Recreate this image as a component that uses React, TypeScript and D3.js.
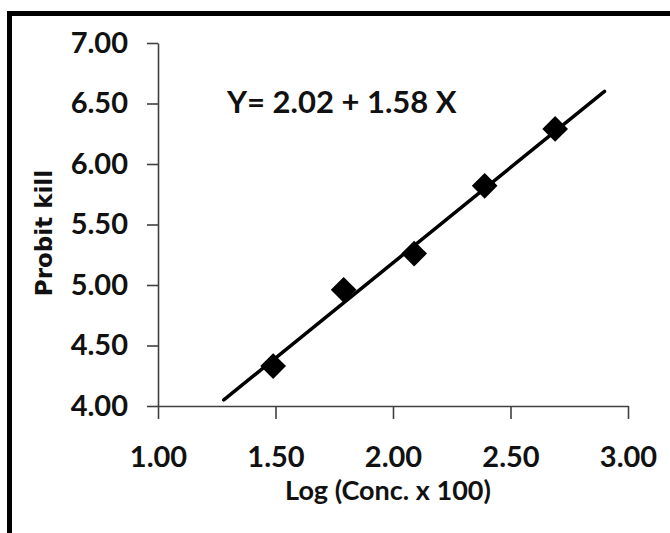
import React, { useEffect, useRef } from 'react';
import * as d3 from 'd3';

// observed points
const logConc = [1.49, 1.79, 2.09, 2.39, 2.69];
const probitKill = [4.33, 4.96, 5.26, 5.82, 6.29];

// fitted line end points
const fitX = [1.28, 2.9];
const fitY = [4.05, 6.6];

const xTicks = [1, 1.5, 2, 2.5, 3];
const yTicks = [4, 4.5, 5, 5.5, 6, 6.5, 7];

const equationLabel = 'Y= 2.02 + 1.58 X';
const xTitle = 'Log (Conc. x 100)';
const yTitle = 'Probit kill';

const App = () => {
  const chartRef = useRef<SVGSVGElement>(null);

  useEffect(() => {
    const svg = d3.select(chartRef.current);
    svg.selectAll('*').remove();

    const width = 670;
    const height = 533;
    const axisColor = '#404040';
    const tickFont = 'Lato, sans-serif';

    const x = d3.scaleLinear().domain([1, 3]).range([158, 628]);
    const y = d3.scaleLinear().domain([4, 7]).range([406, 43]);

    // white background + frame (only top/left edges visible in the crop)
    svg.append('rect')
      .attr('width', width)
      .attr('height', height)
      .attr('fill', '#fff');
    svg.append('rect')
      .attr('x', 9.5)
      .attr('y', 13.5)
      .attr('width', 720)
      .attr('height', 600)
      .attr('fill', 'none')
      .attr('stroke', '#000')
      .attr('stroke-width', 5);

    // y axis
    const yAxis = svg.append('g')
      .attr('transform', `translate(${x(1)},0)`)
      .call(d3.axisLeft(y)
        .tickValues(yTicks)
        .tickSize(11)
        .tickSizeOuter(0)
        .tickPadding(19)
        .tickFormat(d3.format('.2f')));

    // x axis
    const xAxis = svg.append('g')
      .attr('transform', `translate(0,${y(4)})`)
      .call(d3.axisBottom(x)
        .tickValues(xTicks)
        .tickSize(13)
        .tickSizeOuter(0)
        .tickPadding(27)
        .tickFormat(d3.format('.2f')));

    [yAxis, xAxis].forEach(g => {
      g.selectAll('.domain, .tick line')
        .attr('stroke', axisColor)
        .attr('stroke-width', 1.6);
      g.selectAll('text')
        .attr('fill', '#111')
        .attr('font-family', tickFont)
        .attr('font-weight', 700)
        .attr('font-size', 29);
    });

    // fitted line
    const line = d3.line<number>()
      .x(d => x(d))
      .y((d, i) => y(fitY[i]));
    svg.append('path')
      .datum(fitX)
      .attr('fill', 'none')
      .attr('stroke', '#000')
      .attr('stroke-width', 3.5)
      .attr('stroke-linecap', 'round')
      .attr('d', line);

    // diamond markers
    const diamond = d3.symbol().type(d3.symbolSquare).size(330);
    svg.append('g')
      .selectAll('path')
      .data(logConc)
      .join('path')
      .attr('transform', (d, i) => `translate(${x(d)},${y(probitKill[i])}) rotate(45)`)
      .attr('d', diamond)
      .attr('fill', '#000');

    // equation
    svg.append('text')
      .attr('x', 227)
      .attr('y', 113)
      .attr('font-family', tickFont)
      .attr('font-weight', 700)
      .attr('font-size', 31)
      .attr('fill', '#111')
      .text(equationLabel);

    // axis titles
    svg.append('text')
      .attr('x', 388)
      .attr('y', 500)
      .attr('text-anchor', 'middle')
      .attr('font-family', tickFont)
      .attr('font-weight', 700)
      .attr('font-size', 27)
      .attr('fill', '#111')
      .text(xTitle);

    svg.append('text')
      .attr('transform', 'translate(52,233) rotate(-90)')
      .attr('text-anchor', 'middle')
      .attr('font-family', '"DejaVu Sans", sans-serif')
      .attr('font-weight', 700)
      .attr('font-size', 23)
      .attr('fill', '#111')
      .text(yTitle);
  }, []);

  return (
    <svg
      ref={chartRef}
      width={670}
      height={533}
      style={{ position: 'absolute', left: 0, top: 0, display: 'block' }}
    />
  );
};

export default App;
